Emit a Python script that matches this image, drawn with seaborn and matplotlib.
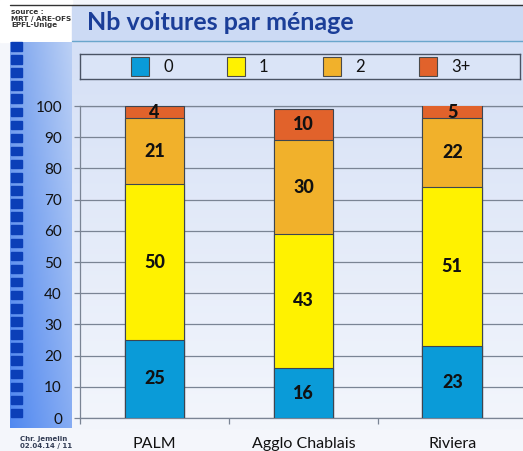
import numpy as np
import pandas as pd
import matplotlib
matplotlib.use("Agg")
import matplotlib.pyplot as plt
import seaborn as sns
from matplotlib.patches import Rectangle
from matplotlib.colors import to_rgb

# ---- data ----
categories = ["PALM", "Agglo Chablais", "Riviera"]
series = ["0", "1", "2", "3+"]
v0 = [25, 16, 23]
v1 = [50, 43, 51]
v2 = [21, 30, 22]
v3 = [4, 10, 5]
yticks = list(range(0, 101, 10))
title = "Nb voitures par ménage"
source_txt = "source :\nMRT / ARE-OFS\nEPFL-Unige"
author_txt = "Chr. Jemelin\n02.04.14 / 11"
colors = ["#0A9BD8", "#FFF200", "#F1B12B", "#E1622B"]

df = pd.DataFrame({"cat": categories, "0": v0, "1": v1, "2": v2, "3+": v3})

W, H = 523, 451
sns.set_theme(style="white")
plt.rcParams['font.family'] = ['Lato', 'DejaVu Sans']
fig = plt.figure(figsize=(W / 100, H / 100), dpi=100, facecolor="#F4F6FB")


def pax(x0, y0, x1, y1, **kw):
    return fig.add_axes([x0 / W, 1 - y1 / H, (x1 - x0) / W, (y1 - y0) / H], **kw)


# ---- slide background ----
bg = fig.add_axes([0, 0, 1, 1], zorder=0)
bg.set_facecolor("#F4F6FB")


def vgrad(c_top, c_bot, n=256):
    a = np.array(to_rgb(c_top)); b = np.array(to_rgb(c_bot))
    t = np.linspace(0, 1, n)[:, None]
    return (a * (1 - t) + b * t)[:, None, :]


bg.add_patch(Rectangle((0, 0), 72, 42, color="white", zorder=0))
bg.imshow(vgrad("#D5E0F6", "#F3F6FC"), extent=(72, W, 430, 42), aspect='auto',
          interpolation='bilinear', zorder=1)
ny, nx = 200, 60
ty = np.linspace(0, 1, ny)[:, None, None]
tx = np.linspace(0, 1, nx)[None, :, None]
top_l = np.array(to_rgb("#7AA3EE")); top_r = np.array(to_rgb("#BBD0F5"))
bot_l = np.array(to_rgb("#5088F0")); bot_r = np.array(to_rgb("#86ACF3"))
lft = top_l * (1 - ty) + bot_l * ty
rgt = top_r * (1 - ty) + bot_r * ty
img = lft * (1 - tx) + rgt * tx
bg.imshow(img, extent=(10, 72, 428, 42), aspect='auto', interpolation='bilinear', zorder=1)
for k in range(29):
    bg.add_patch(Rectangle((11, 42 + 13.1 * k), 11, 8.5, color="#0B3FB8", zorder=2))
bg.add_patch(Rectangle((72, 5), W - 72, 36, color="#CCDAF4", zorder=1))
bg.plot([10, W], [5, 5], color="#333333", lw=1, zorder=3)
bg.plot([72, W], [41, 41], color="#6AA6CC", lw=1, zorder=3)
bg.text(11, 9, source_txt, fontsize=5.2, fontweight="bold", color="#333333",
        va="top", ha="left", linespacing=1.15, family=["DejaVu Sans"])
bg.text(87, 23, title, fontsize=18, fontweight="bold", color="#1B3E98",
        va="center", ha="left")
bg.text(20, 436, author_txt, fontsize=5, fontweight="bold", color="#333D55",
        va="top", ha="left", linespacing=1.15, family=["DejaVu Sans"])
bg.set_xlim(0, W); bg.set_ylim(H, 0); bg.axis('off')

# ---- legend box ----
leg = pax(80, 54, 520, 79, zorder=2)
leg.set_facecolor("#DAE4F7")
leg.set_xlim(0, 440); leg.set_ylim(25, 0)
leg.set_xticks([]); leg.set_yticks([])
for s in leg.spines.values():
    s.set_color("#4A5364"); s.set_linewidth(1)
for i, (name, c) in enumerate(zip(series, colors)):
    x = 51 + 96 * i
    leg.add_patch(Rectangle((x, 3), 18, 19, facecolor=c, edgecolor="#4A4A4A", lw=0.8))
    leg.text(x + 32, 12.5, name, fontsize=12, va="center", ha="left", color="#111111")

# ---- main chart ----
ax = pax(80, 106, 523, 418, zorder=3)
ax.set_facecolor("none")
cum = np.zeros(len(categories))
cums = []
for s in series:
    cum = cum + df[s].to_numpy()
    cums.append(cum.copy())
for i in reversed(range(len(series))):
    sns.barplot(x=df["cat"], y=cums[i], color=colors[i], width=0.4, saturation=1,
                edgecolor="#3D4550", linewidth=0.8, errorbar=None, ax=ax, zorder=3)

ax.set_ylim(0, 100)
ax.set_xlim(-0.5, 2.475)
ax.set_yticks(yticks)
ax.yaxis.grid(True, color="#7A8494", lw=0.9)
ax.set_axisbelow(True)
ax.set_xlabel(""); ax.set_ylabel("")
ax.set_xticks([0, 1, 2])
ax.set_xticklabels(categories)
ax.set_xticks([-0.5, 0.5, 1.5], minor=True)
ax.tick_params(axis='y', left=True, length=4, color="#7A8494", width=0.9, pad=9,
               labelsize=11, labelcolor="#111111")
ax.tick_params(axis='x', which='major', bottom=True, length=0, pad=14,
               labelsize=11.5, labelcolor="#111111")
ax.tick_params(axis='x', which='minor', bottom=True, length=4, color="#7A8494", width=0.9)
for side in ["left", "bottom", "top"]:
    ax.spines[side].set_visible(True)
    ax.spines[side].set_color("#7A8494")
    ax.spines[side].set_linewidth(0.9)
ax.spines["right"].set_visible(False)

for j in range(len(categories)):
    bottom = 0
    for i, s in enumerate(series):
        v = df[s].iloc[j]
        top = min(bottom + v, 100)
        ax.text(j, (bottom + top) / 2, str(v), ha="center", va="center",
                fontsize=13, fontweight="black", color="#111111", zorder=5)
        bottom += v

fig.savefig("out.png", dpi=100, facecolor=fig.get_facecolor())
